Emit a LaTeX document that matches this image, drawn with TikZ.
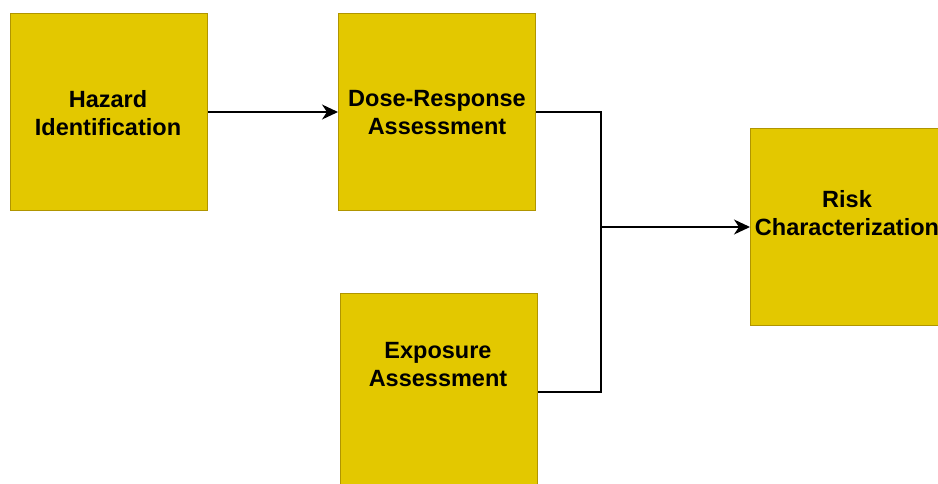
\documentclass[tikz,border=0pt]{standalone}
\usepackage{fontspec}
\setmainfont{Liberation Sans}
\usetikzlibrary{arrows.meta}
\definecolor{boxfill}{HTML}{E3C800}
\definecolor{boxline}{HTML}{B09500}
\begin{document}
\begin{tikzpicture}[x=1pt,y=-1pt,
  stagebox/.style={draw=boxline,fill=boxfill,line width=1pt,minimum width=197pt,minimum height=197pt,inner sep=0pt,anchor=north west},
  stagetext/.style={font=\fontsize{23.5}{28}\selectfont\bfseries,align=center,inner sep=0pt},
  link/.style={line width=1.3pt,draw=black},
  tip/.style={-{Stealth[length=16pt,width=15pt,inset=5pt]}}]
  \useasboundingbox (0,0) rectangle (938,483);
  \clip (0,0) rectangle (938,483);
  % stage boxes
  \node[stagebox] (haz) at (10,13) {};
  \node[stagebox] (dose) at (338,13) {};
  \node[stagebox] (expo) at (340,293) {};
  \node[stagebox] (risk) at (750,128) {};
  % stage labels
  \node[stagetext] (haz-t) at (108,113) {Hazard\\Identification};
  \node[stagetext] (dose-t) at (437,113) {Dose-Response\\Assessment};
  \node[stagetext] (expo-t) at (438,365) {Exposure\\Assessment};
  \node[stagetext] (risk-t) at (847,213) {Risk\\Characterization};
  % connectors
  \coordinate (j) at (601,227);
  \draw[link,tip] (haz.east) -- (dose.west);
  \draw[link] (dose.east) -| (j);
  \draw[link] (expo.east) -| (j);
  \draw[link,tip] (j) -- (risk.west);
\end{tikzpicture}
\end{document}
